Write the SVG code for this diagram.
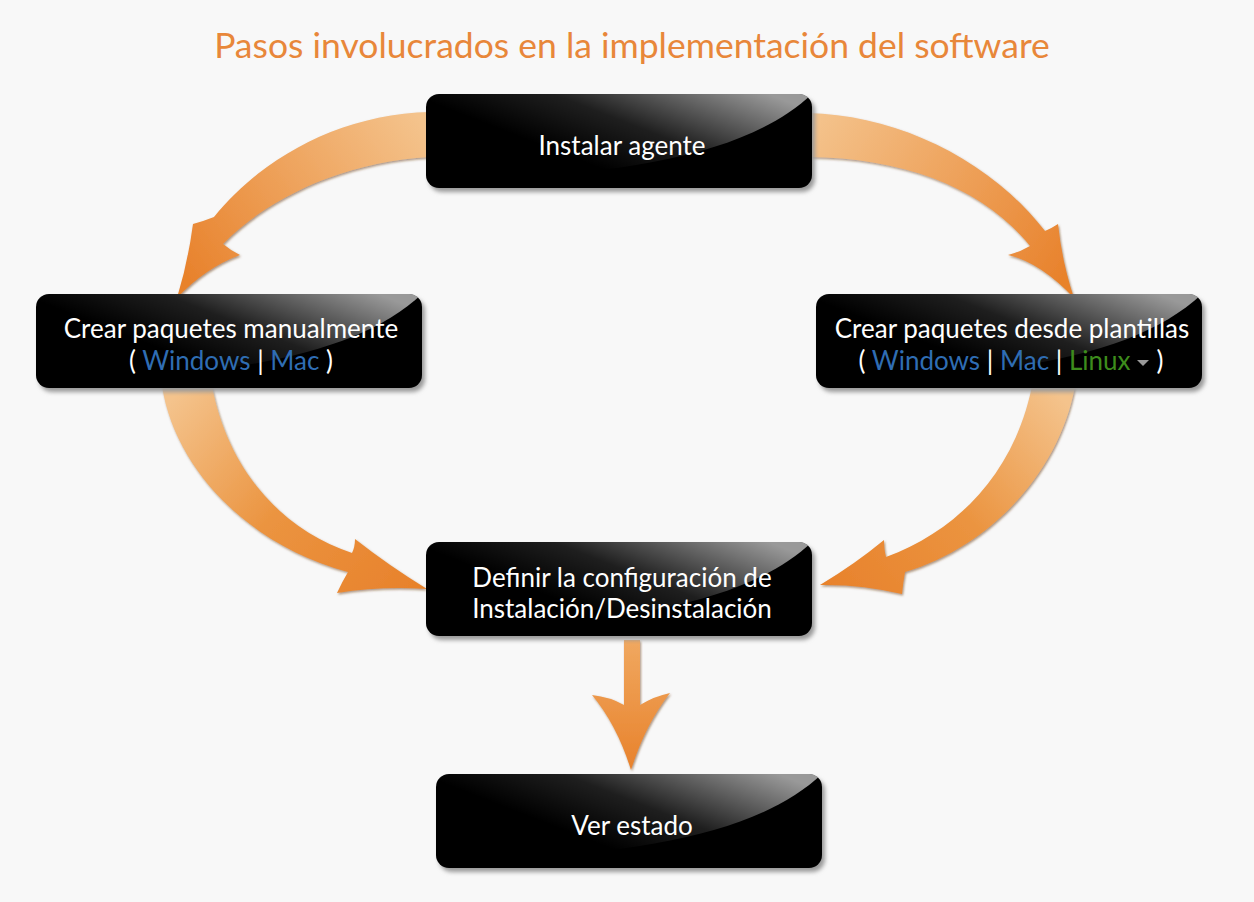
<svg xmlns="http://www.w3.org/2000/svg" xmlns:xlink="http://www.w3.org/1999/xlink" width="1254" height="902" viewBox="0 0 1254 902">
<style>
.title{font-family:Lato,"Open Sans","Liberation Sans",sans-serif;font-size:35.5px;fill:#e8873a;}
.lbl{font-family:Lato,"Open Sans","Liberation Sans",sans-serif;font-size:26px;fill:#ffffff;text-anchor:middle;}
.lnk{fill:#2f6db3;}
.lnx{fill:#3d8c1c;}
.arrow{filter:url(#ashadow);}
</style>
<defs>
<filter id="ashadow" x="-20%" y="-20%" width="140%" height="140%">
<feDropShadow dx="1" dy="1.5" stdDeviation="1" flood-color="#6b3a10" flood-opacity="0.55"/>
</filter>
<filter id="nshadow" x="-10%" y="-10%" width="120%" height="130%">
<feGaussianBlur stdDeviation="2"/>
</filter>
<clipPath id="nclip"><rect x="0" y="0" width="386" height="94" rx="13"/></clipPath>
<linearGradient id="gloss" x1="0.3" y1="0.6" x2="1" y2="0.2">
<stop offset="0" stop-color="#ffffff" stop-opacity="0"/>
<stop offset="0.4" stop-color="#ffffff" stop-opacity="0.12"/>
<stop offset="1" stop-color="#ffffff" stop-opacity="0.6"/>
</linearGradient>
<g id="node">
<rect x="3" y="4" width="386" height="94" rx="13" fill="#9a9a9a" filter="url(#nshadow)"/>
<rect x="0" y="0" width="386" height="94" rx="13" fill="#000000"/>
<path d="M0,86 C190,84 320,62 386,0 L0,0 Z" fill="url(#gloss)" clip-path="url(#nclip)"/>
</g>
<linearGradient id="g1" gradientUnits="userSpaceOnUse" x1="420" y1="120" x2="190" y2="280">
<stop offset="0" stop-color="#f4c38c"/><stop offset="1" stop-color="#e8822c"/>
</linearGradient>
<linearGradient id="g2" gradientUnits="userSpaceOnUse" x1="815" y1="120" x2="1060" y2="280">
<stop offset="0" stop-color="#f4c38c"/><stop offset="1" stop-color="#e8822c"/>
</linearGradient>
<linearGradient id="g3" gradientUnits="userSpaceOnUse" x1="180" y1="390" x2="410" y2="590">
<stop offset="0" stop-color="#f4c38c"/><stop offset="0.5" stop-color="#eb9440"/><stop offset="1" stop-color="#e8822c"/>
</linearGradient>
<linearGradient id="g4" gradientUnits="userSpaceOnUse" x1="1055" y1="390" x2="830" y2="590">
<stop offset="0" stop-color="#f4c38c"/><stop offset="0.5" stop-color="#eb9440"/><stop offset="1" stop-color="#e8822c"/>
</linearGradient>
<linearGradient id="g5" gradientUnits="userSpaceOnUse" x1="0" y1="640" x2="0" y2="770">
<stop offset="0" stop-color="#f0a860"/><stop offset="1" stop-color="#e8822c"/>
</linearGradient>
</defs>
<rect x="0" y="0" width="1254" height="902" fill="#f8f8f8"/>
<text class="title" x="632" y="58" text-anchor="middle">Pasos involucrados en la implementación del software</text>

<g id="connectors">
<path class="arrow" fill="url(#g1)" d="M430,112 C340,114 262,158 214,217 Q204,221 193,224 Q188,262 177,298 Q205,268 240,255 Q230,250 223,244 C266,200 340,162 430,157 Z"/>
<path class="arrow" fill="url(#g2)" d="M808,113 C898,115 990,160 1045,231 Q1052,228 1058,224 Q1062,262 1074,298 Q1040,262 1008,255 Q1020,252 1030,246 C985,190 908,158 808,157 Z"/>
<path class="arrow" fill="url(#g3)" d="M162,386 C175,470 250,546 348,572 Q342,582 337,593 Q380,586 427,589 Q388,565 355,539 Q355,547 352,553 C282,530 228,470 212,386 Z"/>
<path class="arrow" fill="url(#g4)" d="M1075,386 C1060,470 992,546 905,572 Q903,583 902,594 Q860,584 820,585 Q855,564 884,540 Q884,550 886,557 C960,530 1015,470 1032,386 Z"/>
<path class="arrow" fill="url(#g5)" d="M624,640 L640,640 L640,705 Q655,696 670,693 Q645,725 631,770 Q617,725 592,695 Q610,697 624,705 Z"/>
</g>

<g id="n-instalar" transform="translate(426,94)">
<use xlink:href="#node"/>
<text class="lbl" x="196" y="61">Instalar agente</text>
</g>

<g id="n-manual" transform="translate(36,294)">
<use xlink:href="#node"/>
<text class="lbl" x="195" y="44">Crear paquetes manualmente</text>
<text class="lbl" x="195" y="76">(<tspan class="lnk"> Windows</tspan> | <tspan class="lnk">Mac</tspan> )</text>
</g>

<g id="n-plantillas" transform="translate(816,294)">
<use xlink:href="#node"/>
<text class="lbl" x="196" y="44">Crear paquetes desde plantillas</text>
<text class="lbl" x="195" y="76">(<tspan class="lnk"> Windows</tspan> | <tspan class="lnk">Mac</tspan> | <tspan class="lnx">Linux</tspan><tspan dx="26">)</tspan></text>
<path d="M321,66 L333,66 L327,72 Z" fill="#9a9a9a"/>
</g>

<g id="n-definir" transform="translate(426,542)">
<use xlink:href="#node"/>
<text class="lbl" x="196" y="45">Definir la configuración de</text>
<text class="lbl" x="196" y="76">Instalación/Desinstalación</text>
</g>

<g id="n-ver" transform="translate(436,774)">
<use xlink:href="#node"/>
<text class="lbl" x="196" y="61">Ver estado</text>
</g>
</svg>
